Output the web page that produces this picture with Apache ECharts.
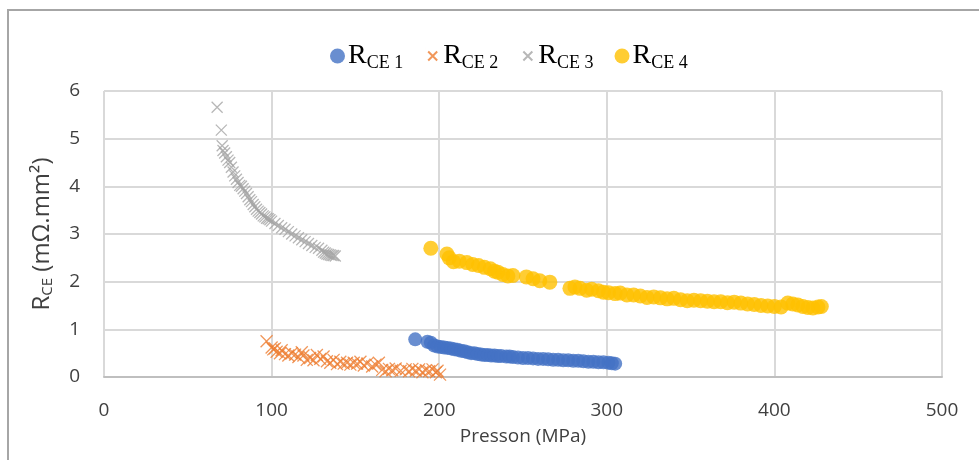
<!DOCTYPE html>
<html>
<head>
<meta charset="utf-8">
<script src="https://cdn.jsdelivr.net/npm/echarts@6/dist/echarts.min.js"></script>
<style>
  html, body { margin: 0; padding: 0; background: #fff; }
  #chart { width: 979px; height: 460px; }
</style>
</head>
<body>
<div id="chart"></div>
<script>
// values: [pressure MPa, R_CE mΩ.mm²]
const rce1 = [[185.7,0.79],[193,0.74],[195,0.72],[197,0.66],[199,0.64],[201,0.63],[203,0.62],[205,0.61],[207,0.6],[209,0.58],[211,0.57],[213,0.55],[215,0.54],[217,0.52],[219,0.5],[221,0.5],[223,0.48],[225,0.47],[227,0.46],[229,0.46],[231,0.45],[233,0.45],[235,0.44],[237,0.44],[240,0.43],[242,0.43],[244,0.42],[247,0.41],[250,0.4],[253,0.4],[256,0.39],[259,0.38],[262,0.38],[265,0.37],[268,0.36],[271,0.36],[274,0.35],[277,0.35],[280,0.34],[283,0.34],[286,0.33],[289,0.32],[292,0.32],[295,0.31],[298,0.31],[301,0.3],[303,0.29],[305,0.28]];
const rce2 = [[97,0.75],[100,0.62],[101,0.58],[102,0.6],[103,0.53],[105,0.5],[106,0.56],[108,0.48],[110,0.45],[112,0.5],[114,0.47],[116,0.42],[118,0.52],[119,0.45],[121,0.36],[123,0.4],[125,0.35],[127,0.46],[129,0.38],[131,0.43],[133,0.33],[135,0.3],[137,0.36],[139,0.27],[141,0.32],[143,0.28],[145,0.3],[147,0.26],[149,0.3],[151,0.28],[153,0.32],[155,0.24],[157,0.28],[160,0.22],[162,0.26],[164,0.3],[166,0.15],[168,0.12],[170,0.17],[172,0.14],[174,0.18],[177,0.13],[180,0.16],[182,0.12],[184,0.17],[186,0.13],[188,0.16],[190,0.1],[192,0.14],[194,0.12],[196,0.16],[198,0.1],[199,0.13],[200.5,0.05]];
const rce3 = [[67.5,5.66],[70,5.18],[70.5,4.85],[71,4.75],[72,4.7],[73,4.62],[74,4.55],[75,4.5],[76,4.4],[77,4.3],[78,4.22],[79,4.15],[80,4.08],[81,4.02],[82,4.0],[83,3.95],[84,3.9],[85,3.85],[86,3.78],[87,3.72],[88,3.68],[89,3.62],[90,3.57],[91,3.52],[92,3.48],[93,3.45],[94,3.42],[95,3.38],[96,3.36],[97,3.33],[98,3.32],[99,3.3],[100,3.27],[102,3.22],[104,3.18],[106,3.13],[108,3.1],[110,3.05],[112,3.0],[114,2.96],[116,2.92],[118,2.88],[120,2.84],[122,2.8],[124,2.76],[126,2.72],[128,2.7],[130,2.66],[131,2.62],[132,2.6],[133,2.58],[134,2.57],[135,2.56],[136,2.55],[137,2.55],[138,2.54]];
const rce4 = [[195,2.7],[204.6,2.58],[206,2.5],[208.5,2.42],[212,2.43],[216.5,2.4],[220,2.36],[223.5,2.34],[227,2.3],[230.5,2.27],[233,2.22],[235,2.2],[238,2.15],[241,2.12],[244,2.13],[252,2.1],[256,2.06],[260,2.02],[266,1.99],[278,1.86],[281,1.89],[284,1.86],[288,1.82],[291,1.84],[295,1.81],[298,1.78],[301,1.77],[305,1.75],[308,1.76],[312,1.72],[316,1.72],[320,1.7],[324,1.67],[328,1.68],[332,1.66],[336,1.64],[340,1.65],[344,1.62],[348,1.6],[352,1.61],[356,1.6],[360,1.59],[364,1.58],[368,1.58],[372,1.56],[376,1.57],[380,1.55],[384,1.53],[388,1.52],[392,1.5],[396,1.49],[400,1.48],[404,1.47],[408,1.55],[411,1.53],[414,1.51],[417,1.48],[420,1.46],[423,1.45],[426,1.47],[428,1.48]];

const seriesNames = ['RCE 1', 'RCE 2', 'RCE 3', 'RCE 4'];
const xTicks = [0, 500, 100];   // min, max, interval
const yTicks = [0, 6, 1];

const cross = 'path://M0,0L10,10M10,0L0,10';
// smaller cross for the legend, padded box so it draws at ~10px in a 15px slot
const legendCross = 'path://M0,0L0.01,0M3,3L12,12M12,3L3,12M15,15L15,14.99';
const font = '"Open Sans", "Liberation Sans", sans-serif';
const serif = '"Liberation Serif", "DejaVu Serif", serif';

const chart = echarts.init(document.getElementById('chart'));

chart.setOption({
  animation: false,
  backgroundColor: '#fff',
  graphic: [{
    type: 'polyline',
    shape: { points: [[8, 470], [8, 10], [985, 10]] },
    style: { stroke: '#a6a6a6', lineWidth: 2, fill: null }
  }],
  legend: {
    top: 37,
    left: 325,
    itemGap: 21,
    itemWidth: 15,
    itemHeight: 15,
    data: [
      { name: seriesNames[0] },
      { name: seriesNames[1], icon: legendCross },
      { name: seriesNames[2], icon: legendCross },
      { name: seriesNames[3] }
    ],
    formatter: function (name) {
      return '{r|R}{s|' + name.slice(1) + '}';
    },
    textStyle: {
      padding: [0, 0, 0, -2],
      rich: {
        r: { fontFamily: serif, fontSize: 28, color: '#000' },
        s: { fontFamily: serif, fontSize: 18, color: '#000', padding: [14, 0, 0, 0] }
      }
    }
  },
  grid: { left: 104, right: 37, top: 91, bottom: 83 },
  xAxis: {
    type: 'value',
    min: xTicks[0], max: xTicks[1], interval: xTicks[2],
    name: 'Presson (MPa)',
    nameLocation: 'middle',
    nameGap: 50,
    nameTextStyle: { fontFamily: font, fontSize: 19, color: '#404040' },
    axisLine: { show: true, lineStyle: { color: '#bfbfbf', width: 2 } },
    axisTick: { show: false },
    axisLabel: { fontFamily: font, fontSize: 19, color: '#404040', margin: 24 },
    splitLine: { show: true, lineStyle: { color: '#d9d9d9', width: 2 } }
  },
  yAxis: {
    type: 'value',
    min: yTicks[0], max: yTicks[1], interval: yTicks[2],
    name: '{r|R}{s|CE}{r| (mΩ.mm²)}',
    nameLocation: 'middle',
    nameGap: 49,
    nameTextStyle: {
      rich: {
        r: { fontFamily: font, fontSize: 24, color: '#404040' },
        s: { fontFamily: font, fontSize: 15, color: '#404040', padding: [10, 0, 0, 0] }
      }
    },
    axisLine: { show: false },
    axisTick: { show: false },
    axisLabel: { fontFamily: font, fontSize: 19, color: '#404040', margin: 24 },
    splitLine: { show: true, lineStyle: { color: '#d9d9d9', width: 2 } }
  },
  series: [
    {
      name: seriesNames[0], type: 'scatter', data: rce1,
      symbol: 'circle', symbolSize: 14,
      itemStyle: { color: '#4472C4' }
    },
    {
      name: seriesNames[1], type: 'scatter', data: rce2,
      symbol: cross, symbolSize: 12,
      itemStyle: { color: 'rgba(0,0,0,0)', borderColor: '#ED7D31', borderWidth: 1.3 }
    },
    {
      name: seriesNames[2], type: 'scatter', data: rce3,
      symbol: cross, symbolSize: 11,
      itemStyle: { color: 'rgba(0,0,0,0)', borderColor: '#A5A5A5', borderWidth: 1.3 }
    },
    {
      name: seriesNames[3], type: 'scatter', data: rce4,
      symbol: 'circle', symbolSize: 15,
      itemStyle: { color: '#FFC000' }
    }
  ]
});
</script>
</body>
</html>
